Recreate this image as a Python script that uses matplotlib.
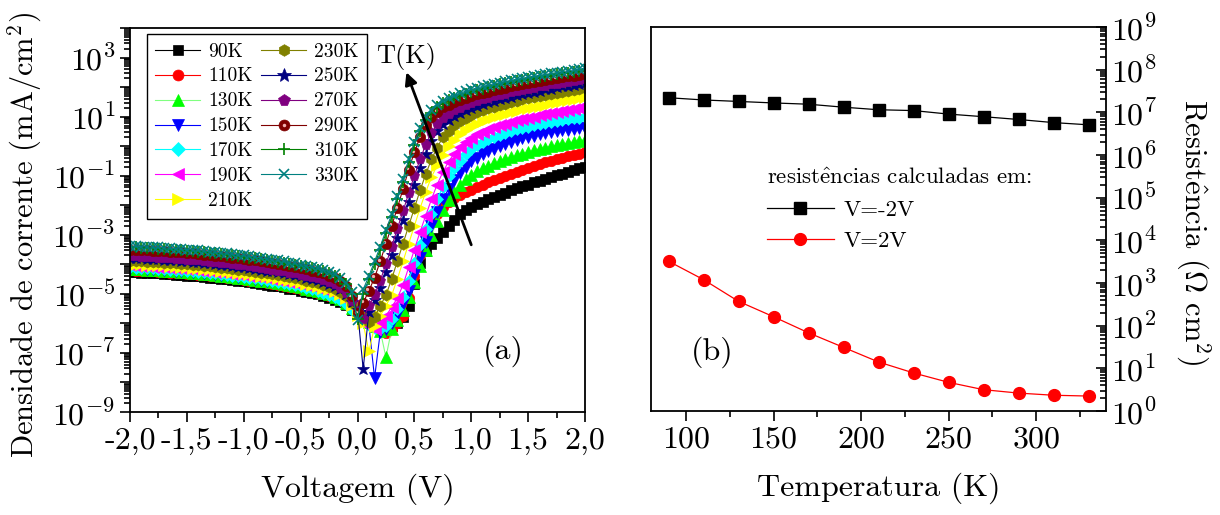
import numpy as np
import matplotlib
matplotlib.use('Agg')
import matplotlib.pyplot as plt
import matplotlib.transforms as mtrans
from matplotlib.ticker import LogLocator, FixedLocator, NullFormatter, FuncFormatter
from matplotlib.legend_handler import HandlerTuple

plt.rcParams.update({
    'font.family': ['cmr10', 'DejaVu Serif'],
    'mathtext.fontset': 'cm',
    'axes.unicode_minus': False,
    'axes.formatter.use_mathtext': True,
})

# ---------------- data (a): log10 of current density (mA/cm^2) ----------------
voltage = np.linspace(-2.0, 2.0, 81)   # V, step 0.05

logJ_90K = [-4.26,-4.27,-4.28,-4.29,-4.30,-4.31,-4.32,-4.34,-4.35,-4.36,
            -4.38,-4.39,-4.41,-4.43,-4.45,-4.47,-4.49,-4.51,-4.54,-4.56,
            -4.58,-4.61,-4.63,-4.66,-4.69,-4.72,-4.75,-4.78,-4.82,-4.85,
            -4.89,-4.93,-4.97,-5.02,-5.07,-5.13,-5.20,-5.28,-5.39,-5.55,
            -5.55,-5.70,-5.85,-5.95,-6.05,-6.10,-6.10,-6.00,-5.80,-5.40,-4.65,-3.95,-3.55,-3.30,-3.10,-2.90,-2.70,-2.50,-2.30,-2.17,-2.06,-1.97,-1.88,-1.80,-1.72,-1.65,-1.57,-1.50,-1.43,-1.36,-1.30,-1.23,-1.17,-1.11,-1.05,-0.99,-0.93,-0.87,-0.81,-0.75,-0.70]
logJ_110K = [-4.20,-4.21,-4.22,-4.23,-4.24,-4.25,-4.26,-4.28,-4.29,-4.30,
             -4.32,-4.33,-4.35,-4.37,-4.39,-4.41,-4.43,-4.45,-4.48,-4.50,
             -4.52,-4.55,-4.57,-4.60,-4.63,-4.66,-4.69,-4.72,-4.76,-4.79,
             -4.83,-4.87,-4.91,-4.96,-5.01,-5.07,-5.14,-5.22,-5.33,-5.50,
             -5.55,-5.75,-5.90,-6.05,-6.20,-6.32,-6.20,-6.00,-5.75,-5.15,-4.40,-3.70,-3.10,-2.60,-2.30,-2.07,-1.90,-1.77,-1.66,-1.56,-1.47,-1.38,-1.30,-1.22,-1.14,-1.07,-1.00,-0.93,-0.86,-0.80,-0.73,-0.67,-0.61,-0.55,-0.50,-0.44,-0.39,-0.34,-0.29,-0.25,-0.20]
logJ_130K = [-4.15,-4.16,-4.17,-4.18,-4.19,-4.20,-4.21,-4.23,-4.24,-4.25,
             -4.27,-4.28,-4.30,-4.32,-4.34,-4.36,-4.38,-4.40,-4.43,-4.45,
             -4.47,-4.50,-4.52,-4.55,-4.58,-4.61,-4.64,-4.67,-4.71,-4.74,
             -4.78,-4.82,-4.86,-4.91,-4.96,-5.02,-5.09,-5.18,-5.30,-5.47,
             -5.60,-5.80,-5.95,-6.10,-6.25,-7.15,-6.20,-5.90,-5.55,-5.10,-4.60,-4.05,-3.50,-3.00,-2.55,-2.15,-1.82,-1.55,-1.32,-1.12,-0.96,-0.85,-0.75,-0.66,-0.58,-0.51,-0.44,-0.37,-0.31,-0.25,-0.19,-0.14,-0.09,-0.05,-0.01,0.03,0.07,0.11,0.15,0.19,0.22]
logJ_150K = [-4.12,-4.13,-4.14,-4.15,-4.16,-4.17,-4.18,-4.20,-4.21,-4.22,
             -4.24,-4.25,-4.27,-4.29,-4.31,-4.33,-4.35,-4.37,-4.40,-4.42,
             -4.44,-4.47,-4.49,-4.52,-4.55,-4.58,-4.61,-4.64,-4.68,-4.71,
             -4.75,-4.79,-4.83,-4.88,-4.93,-4.99,-5.06,-5.15,-5.27,-5.45,
             -5.65,-5.85,-6.05,-7.85,-6.30,-6.20,-6.00,-5.70,-5.35,-4.90,-4.35,-3.80,-3.25,-2.72,-2.22,-1.80,-1.45,-1.15,-0.90,-0.69,-0.51,-0.39,-0.28,-0.18,-0.09,0.00,0.07,0.14,0.20,0.26,0.32,0.36,0.40,0.44,0.47,0.50,0.53,0.56,0.58,0.60,0.62]
logJ_170K = [-4.10,-4.11,-4.12,-4.13,-4.14,-4.15,-4.16,-4.18,-4.19,-4.20,
             -4.22,-4.23,-4.25,-4.27,-4.29,-4.31,-4.33,-4.35,-4.38,-4.40,
             -4.42,-4.45,-4.47,-4.50,-4.53,-4.56,-4.59,-4.62,-4.66,-4.70,
             -4.74,-4.79,-4.84,-4.90,-4.96,-5.03,-5.11,-5.22,-5.36,-5.55,
             -5.70,-5.90,-6.05,-6.15,-6.20,-6.10,-5.85,-5.50,-5.10,-4.55,-3.95,-3.35,-2.80,-2.28,-1.80,-1.38,-1.02,-0.75,-0.50,-0.28,-0.09,0.05,0.15,0.24,0.32,0.39,0.46,0.52,0.57,0.62,0.66,0.70,0.74,0.78,0.82,0.85,0.88,0.91,0.94,0.96,0.99]
logJ_190K = [-4.04,-4.05,-4.06,-4.07,-4.08,-4.09,-4.10,-4.12,-4.13,-4.14,
             -4.16,-4.17,-4.19,-4.21,-4.23,-4.25,-4.27,-4.29,-4.32,-4.34,
             -4.36,-4.39,-4.41,-4.44,-4.47,-4.50,-4.53,-4.56,-4.60,-4.63,
             -4.67,-4.71,-4.75,-4.80,-4.85,-4.91,-4.98,-5.08,-5.21,-5.42,
             -5.75,-5.95,-6.10,-6.20,-6.00,-5.75,-5.45,-5.15,-4.70,-4.10,-3.50,-2.90,-2.35,-1.80,-1.30,-0.88,-0.53,-0.25,-0.02,0.15,0.29,0.40,0.49,0.57,0.64,0.70,0.76,0.82,0.87,0.92,0.96,1.00,1.04,1.08,1.12,1.15,1.19,1.22,1.25,1.28,1.31]
logJ_210K = [-3.98,-3.99,-4.00,-4.01,-4.02,-4.03,-4.04,-4.06,-4.07,-4.08,
             -4.10,-4.11,-4.13,-4.15,-4.17,-4.19,-4.21,-4.23,-4.26,-4.28,
             -4.30,-4.33,-4.35,-4.38,-4.41,-4.44,-4.47,-4.50,-4.54,-4.57,
             -4.61,-4.65,-4.69,-4.74,-4.79,-4.85,-4.92,-5.02,-5.15,-5.38,
             -5.70,-6.00,-6.95,-6.10,-5.75,-5.40,-5.05,-4.50,-3.90,-3.30,-2.70,-2.10,-1.55,-1.05,-0.65,-0.30,0.00,0.22,0.40,0.55,0.67,0.76,0.84,0.91,0.98,1.04,1.10,1.15,1.20,1.25,1.29,1.33,1.37,1.41,1.45,1.49,1.52,1.56,1.59,1.62,1.65]
logJ_230K = [-3.88,-3.89,-3.90,-3.91,-3.92,-3.93,-3.94,-3.96,-3.97,-3.98,
             -4.00,-4.01,-4.03,-4.05,-4.07,-4.09,-4.11,-4.13,-4.16,-4.18,
             -4.20,-4.23,-4.25,-4.28,-4.31,-4.34,-4.37,-4.40,-4.44,-4.47,
             -4.51,-4.55,-4.59,-4.64,-4.69,-4.76,-4.84,-4.94,-5.08,-5.32,
             -5.60,-5.75,-5.95,-5.80,-5.40,-5.05,-4.50,-3.90,-3.30,-2.70,-2.10,-1.50,-0.95,-0.45,-0.05,0.30,0.52,0.70,0.84,0.96,1.06,1.14,1.21,1.28,1.34,1.39,1.44,1.49,1.54,1.58,1.62,1.66,1.70,1.73,1.77,1.80,1.84,1.87,1.90,1.93,1.96]
logJ_250K = [-3.78,-3.79,-3.80,-3.81,-3.82,-3.83,-3.84,-3.86,-3.87,-3.88,
             -3.90,-3.91,-3.93,-3.95,-3.97,-3.99,-4.01,-4.03,-4.06,-4.08,
             -4.10,-4.13,-4.15,-4.18,-4.21,-4.24,-4.27,-4.30,-4.34,-4.37,
             -4.41,-4.45,-4.49,-4.54,-4.59,-4.66,-4.74,-4.85,-5.00,-5.28,
             -5.55,-7.55,-5.60,-5.20,-4.80,-4.25,-3.70,-3.10,-2.50,-1.90,-1.30,-0.75,-0.25,0.18,0.50,0.74,0.90,1.03,1.13,1.22,1.30,1.37,1.43,1.49,1.54,1.59,1.64,1.68,1.73,1.77,1.81,1.85,1.88,1.92,1.95,1.99,2.02,2.05,2.08,2.11,2.14]
logJ_270K = [-3.72,-3.73,-3.74,-3.75,-3.76,-3.77,-3.78,-3.80,-3.81,-3.82,
             -3.84,-3.85,-3.87,-3.89,-3.91,-3.93,-3.95,-3.97,-4.00,-4.02,
             -4.04,-4.07,-4.09,-4.12,-4.15,-4.18,-4.21,-4.24,-4.28,-4.31,
             -4.35,-4.39,-4.43,-4.48,-4.53,-4.60,-4.68,-4.79,-4.96,-5.25,
             -5.60,-5.85,-5.40,-5.05,-4.55,-4.00,-3.40,-2.80,-2.20,-1.60,-1.00,-0.45,0.05,0.45,0.75,0.95,1.10,1.21,1.30,1.38,1.46,1.52,1.58,1.64,1.69,1.74,1.78,1.83,1.87,1.91,1.95,1.98,2.02,2.05,2.09,2.12,2.15,2.18,2.21,2.25,2.28]
logJ_290K = [-3.50,-3.51,-3.52,-3.53,-3.54,-3.55,-3.56,-3.58,-3.59,-3.60,
             -3.62,-3.63,-3.65,-3.67,-3.69,-3.71,-3.73,-3.75,-3.78,-3.80,
             -3.82,-3.85,-3.87,-3.90,-3.93,-3.96,-3.99,-4.02,-4.06,-4.09,
             -4.13,-4.17,-4.21,-4.26,-4.31,-4.38,-4.46,-4.57,-4.74,-5.08,
             -5.65,-5.30,-4.90,-4.45,-3.90,-3.30,-2.70,-2.10,-1.45,-0.80,-0.20,0.30,0.70,0.98,1.17,1.31,1.41,1.50,1.57,1.63,1.69,1.75,1.80,1.85,1.90,1.94,1.98,2.02,2.06,2.10,2.13,2.17,2.20,2.24,2.27,2.30,2.33,2.36,2.39,2.42,2.45]
logJ_310K = [-3.42,-3.43,-3.44,-3.45,-3.46,-3.47,-3.48,-3.50,-3.51,-3.52,
             -3.54,-3.55,-3.57,-3.59,-3.61,-3.63,-3.65,-3.67,-3.70,-3.72,
             -3.74,-3.77,-3.79,-3.82,-3.85,-3.88,-3.91,-3.94,-3.98,-4.01,
             -4.05,-4.09,-4.13,-4.18,-4.23,-4.30,-4.38,-4.49,-4.66,-5.00,
             -5.85,-5.00,-4.50,-4.00,-3.50,-2.95,-2.40,-1.80,-1.20,-0.55,0.05,0.50,0.88,1.13,1.31,1.45,1.55,1.63,1.71,1.78,1.84,1.90,1.95,2.00,2.05,2.09,2.13,2.17,2.21,2.24,2.28,2.31,2.34,2.37,2.40,2.43,2.46,2.49,2.52,2.55,2.58]
logJ_330K = [-3.38,-3.39,-3.40,-3.41,-3.42,-3.43,-3.44,-3.46,-3.47,-3.48,
             -3.50,-3.51,-3.53,-3.55,-3.57,-3.59,-3.61,-3.63,-3.66,-3.68,
             -3.70,-3.73,-3.75,-3.78,-3.81,-3.84,-3.87,-3.90,-3.94,-3.97,
             -4.01,-4.05,-4.09,-4.14,-4.19,-4.26,-4.34,-4.45,-4.62,-4.95,
             -5.90,-4.85,-4.40,-3.90,-3.40,-2.85,-2.30,-1.70,-1.10,-0.45,0.15,0.60,0.98,1.22,1.40,1.53,1.63,1.71,1.79,1.86,1.92,1.97,2.02,2.07,2.11,2.15,2.19,2.23,2.27,2.30,2.34,2.37,2.40,2.43,2.46,2.49,2.52,2.55,2.58,2.61,2.64]

series_labels = ['90K', '110K', '130K', '150K', '170K', '190K', '210K',
                 '230K', '250K', '270K', '290K', '310K', '330K']
series_logJ = [logJ_90K, logJ_110K, logJ_130K, logJ_150K, logJ_170K, logJ_190K, logJ_210K,
               logJ_230K, logJ_250K, logJ_270K, logJ_290K, logJ_310K, logJ_330K]

x_ticks_a = [-2.0, -1.5, -1.0, -0.5, 0.0, 0.5, 1.0, 1.5, 2.0]
x_ticklabels_a = ['-2,0', '-1,5', '-1,0', '-0,5', '0,0', '0,5', '1,0', '1,5', '2,0']

# ---------------- data (b): resistance ----------------
temperature = [90, 110, 130, 150, 170, 190, 210, 230, 250, 270, 290, 310, 330]
R_vneg2 = [2.2e7, 1.95e7, 1.8e7, 1.66e7, 1.55e7, 1.32e7, 1.15e7, 1.1e7, 9.1e6, 7.9e6, 6.8e6, 5.75e6, 5.1e6]
R_vpos2 = [3240, 1200, 372, 162, 68, 31, 14.1, 7.8, 4.7, 3.16, 2.63, 2.34, 2.24]

# ---------------- styles ----------------
markers = ['s', 'o', '^', 'v', 'D', '<', '>', 'h', '*', 'p', 'o', '+', 'x']
mcolors = ['#000000', '#ff0000', '#00ff00', '#0000ff', '#00ffff', '#ff00ff', '#ffff00',
           '#808000', '#000080', '#800080', '#800000', '#008000', '#008080']
lcolors = ['#000000', '#ff0000', '#80ff80', '#0000ff', '#00ffff', '#ff00ff', '#ffff00',
           '#808000', '#000080', '#800080', '#800000', '#008000', '#008080']
msizes = [7, 7.5, 8, 8, 6.5, 8, 8, 8, 9.5, 8, 7.5, 8, 7]

fig = plt.figure(figsize=(12.2, 5.15), dpi=100)
axL = fig.add_axes([130/1220, 103/515, 455/1220, 384/515])
axR = fig.add_axes([651/1220, 104/515, 455/1220, 384/515])

handles = []
for lab, lj, mk, mc, lc, ms in zip(series_labels, series_logJ, markers, mcolors, lcolors, msizes):
    J = 10.0 ** np.array(lj)
    mew = 1.2 if mk in ('+', 'x') else 0.5
    ln, = axL.plot(voltage, J, linestyle='-', color=lc, lw=0.8, marker=mk,
                   markerfacecolor=mc, markeredgecolor=mc, markersize=ms, markeredgewidth=mew)
    if lab == '290K':
        tr = mtrans.offset_copy(axL.transData, fig=fig, x=-1.5, y=1.5, units='dots')
        hl, = axL.plot(voltage, J, linestyle='none', marker='o', markersize=2.4,
                       color='#f0b0b0', markeredgewidth=0, transform=tr)
        handles.append((ln, hl))
    else:
        handles.append(ln)

axL.set_yscale('log')
axL.set_xlim(-2.0, 2.0)
axL.set_ylim(1e-9, 1e4)
axL.yaxis.set_major_locator(LogLocator(base=10, numticks=30))
axL.yaxis.set_minor_locator(LogLocator(base=10, subs=np.arange(2, 10), numticks=30))
def _fmt_odd(v, p):
    e = int(round(np.log10(v)))
    return r'$10^{%d}$' % e if e % 2 else ''
axL.yaxis.set_major_formatter(FuncFormatter(_fmt_odd))
axL.yaxis.set_minor_formatter(NullFormatter())
axL.xaxis.set_major_locator(FixedLocator(x_ticks_a))
axL.set_xticklabels(x_ticklabels_a)
axL.xaxis.set_minor_locator(FixedLocator([-1.75, -1.25, -0.75, -0.25, 0.25, 0.75, 1.25, 1.75]))
axL.tick_params(axis='both', which='both', direction='out', top=False, right=False,
                labelsize=23, width=1.2)
axL.tick_params(axis='both', which='major', length=7)
axL.tick_params(axis='both', which='minor', length=4)
axL.tick_params(axis='x', pad=4)
for sp in axL.spines.values():
    sp.set_linewidth(1.3)
axL.set_xlabel('Voltagem (V)', fontsize=23)
axL.xaxis.set_label_coords(0.5, -0.16)
axL.set_ylabel('Densidade de corrente (mA/cm$^2$)', fontsize=22)
axL.yaxis.set_label_coords(-0.19, 0.46)

leg = axL.legend(handles, series_labels, ncol=2, loc='upper left',
                 bbox_to_anchor=(0.015, 1.01), fontsize=14, frameon=True, fancybox=False,
                 edgecolor='black', framealpha=1, handlelength=2.3, handletextpad=0.4,
                 columnspacing=0.45, labelspacing=0.36, borderpad=0.45, markerscale=1.05,
                 handler_map={tuple: HandlerTuple(ndivide=1, pad=0)})
leg.get_frame().set_linewidth(1.0)

axL.annotate('', xy=(0.43, 10**2.5), xytext=(1.0, 10**-3.34),
             arrowprops=dict(arrowstyle='-|>', lw=2.0, color='black', mutation_scale=18,
                             shrinkA=0, shrinkB=0))
axL.text(0.43, 10**3.05, 'T(K)', fontsize=19, ha='center', va='center')
axL.text(1.28, 10**-6.95, '(a)', fontsize=23, ha='center', va='center')

# ---------------- panel (b) ----------------
lnA, = axR.plot(temperature, R_vneg2, '-', color='black', lw=0.9, marker='s',
                markersize=8, markerfacecolor='black', markeredgecolor='black')
lnB, = axR.plot(temperature, R_vpos2, '-', color='red', lw=0.9, marker='o',
                markersize=8.5, markerfacecolor='red', markeredgecolor='red')
axR.set_yscale('log')
axR.set_xlim(80, 340)
axR.set_ylim(1, 1e9)
axR.yaxis.set_major_locator(LogLocator(base=10, numticks=30))
axR.yaxis.set_minor_locator(LogLocator(base=10, subs=np.arange(2, 10), numticks=30))
axR.yaxis.set_major_formatter(FuncFormatter(lambda v, p: r'$10^{%d}$' % int(round(np.log10(v)))))
axR.yaxis.set_minor_formatter(NullFormatter())
axR.xaxis.set_major_locator(FixedLocator([100, 150, 200, 250, 300]))
axR.xaxis.set_minor_locator(FixedLocator([125, 175, 225, 275, 325]))
axR.tick_params(axis='x', which='both', direction='out', top=False, bottom=True,
                labelsize=23, width=1.2)
axR.tick_params(axis='y', which='both', direction='in', left=False, right=True,
                labelleft=False, labelright=True, labelsize=23, width=1.2)
axR.tick_params(axis='both', which='major', length=7)
axR.tick_params(axis='both', which='minor', length=4)
for sp in axR.spines.values():
    sp.set_linewidth(1.3)
axR.yaxis.set_label_position('right')
axR.set_xlabel('Temperatura (K)', fontsize=23)
axR.xaxis.set_label_coords(0.5, -0.16)
axR.set_ylabel(r'Resist$\hat{\mathrm{e}}$ncia ($\Omega$ cm$^2$)', fontsize=22, rotation=270)
axR.yaxis.set_label_coords(1.235, 0.465)
legR = axR.legend([lnA, lnB], ['V=-2V', 'V=2V'], loc='upper left',
                  bbox_to_anchor=(0.22, 0.675), frameon=False, fontsize=16.5,
                  title=r'resist$\hat{\mathrm{e}}$ncias calculadas em:', title_fontsize=16.5,
                  alignment='left', handlelength=2.9, handletextpad=0.45, labelspacing=0.5,
                  borderpad=0.2)
axR.text(115, 10**1.37, '(b)', fontsize=23, ha='center', va='center')

fig.savefig('out.png', dpi=100)
